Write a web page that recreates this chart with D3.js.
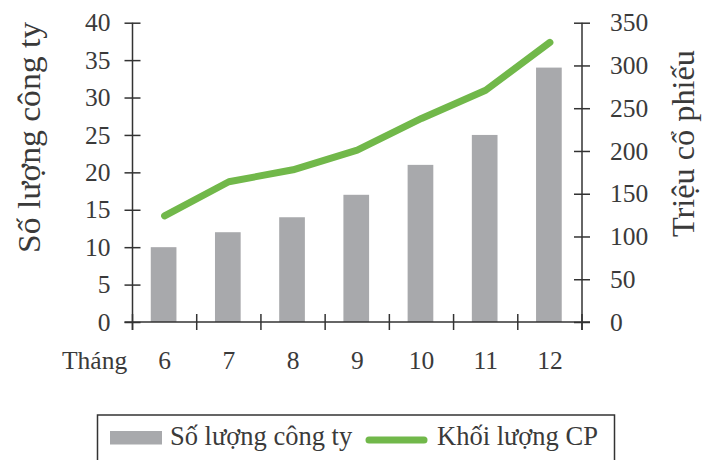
<!DOCTYPE html>
<html>
<head>
<meta charset="utf-8">
<script src="https://cdn.jsdelivr.net/npm/d3@7/dist/d3.min.js"></script>
<style>
  html, body { margin: 0; padding: 0; background: #fff; }
  svg { display: block; }
  text { font-family: "Liberation Serif", "Times New Roman", serif; fill: #3a3a3a; }
</style>
</head>
<body>
<svg id="chart" width="704" height="460"></svg>
<script>
// Số lượng công ty niêm yết và khối lượng cổ phiếu theo tháng
const months = ["6", "7", "8", "9", "10", "11", "12"];
const companyCounts = [10, 12, 14, 17, 21, 25, 34];
const shareVolumes = [124, 164, 178, 201, 238, 271, 327];
const leftTicks = [0, 5, 10, 15, 20, 25, 30, 35, 40];
const rightTicks = [0, 50, 100, 150, 200, 250, 300, 350];

const svg = d3.select("#chart");
const axisColor = "#333";
const barColor = "#a8a9ac";
const lineColor = "#71b84a";
const tickFont = 25.5;

const plot = { left: 132.5, right: 582, top: 22.7, bottom: 322 };

const x = d3.scaleBand()
  .domain(months)
  .range([plot.left, plot.right])
  .paddingInner(0.6)
  .paddingOuter(0.3);

const yL = d3.scaleLinear().domain([0, 40]).range([plot.bottom, plot.top]);
const yR = d3.scaleLinear().domain([0, 350]).range([plot.bottom, plot.top]);

// Cột: số lượng công ty
svg.append("g")
  .selectAll("rect")
  .data(companyCounts)
  .join("rect")
  .attr("x", (d, i) => x(months[i]) - 1)
  .attr("y", d => yL(d))
  .attr("width", x.bandwidth())
  .attr("height", d => yL(0) - yL(d))
  .attr("fill", barColor);

// Đường: khối lượng cổ phiếu
const line = d3.line()
  .x((d, i) => x(months[i]) + x.bandwidth() / 2)
  .y(d => yR(d));

svg.append("path")
  .datum(shareVolumes)
  .attr("d", line)
  .attr("fill", "none")
  .attr("stroke", lineColor)
  .attr("stroke-width", 7)
  .attr("stroke-linecap", "round")
  .attr("stroke-linejoin", "round");

// Trục trái
const gL = svg.append("g")
  .attr("transform", `translate(${plot.left},0)`)
  .call(d3.axisLeft(yL).tickValues(leftTicks).tickSize(8).tickPadding(14));
gL.select(".domain").remove();
gL.selectAll(".tick line").attr("x1", -8).attr("x2", 8);
gL.append("line")
  .attr("y1", plot.top).attr("y2", plot.bottom + 8);

// Trục phải
const gR = svg.append("g")
  .attr("transform", `translate(${plot.right},0)`)
  .call(d3.axisRight(yR).tickValues(rightTicks).tickSize(8).tickPadding(20));
gR.select(".domain").remove();
gR.selectAll(".tick line").attr("x1", -8).attr("x2", 8);
gR.append("line")
  .attr("y1", plot.top).attr("y2", plot.bottom + 8);

[gL, gR].forEach(g => {
  g.selectAll("line").attr("stroke", axisColor).attr("stroke-width", 1.5);
  g.selectAll("text")
    .attr("font-family", "Liberation Serif, Times New Roman, serif")
    .attr("font-size", tickFont)
    .attr("fill", "#3a3a3a");
});

// Trục dưới: vạch chia tại ranh giới giữa các tháng
const gB = svg.append("g")
  .attr("transform", `translate(0,${plot.bottom})`)
  .call(d3.axisBottom(x).tickSize(0).tickPadding(29));
gB.select(".domain").remove();
gB.selectAll("text")
  .attr("font-family", "Liberation Serif, Times New Roman, serif")
  .attr("font-size", tickFont)
  .attr("fill", "#3a3a3a");

const boundaries = months.map(m => x(m) - x.step() * x.paddingInner() / 2);
boundaries[0] = plot.left;
boundaries.push(plot.right);

gB.append("line")
  .attr("x1", plot.left - 8).attr("x2", plot.right + 8)
  .attr("stroke", axisColor).attr("stroke-width", 1.5);
gB.selectAll(".bound")
  .data(boundaries)
  .join("line")
  .attr("class", "bound")
  .attr("x1", d => d).attr("x2", d => d)
  .attr("y1", -8).attr("y2", 8)
  .attr("stroke", axisColor).attr("stroke-width", 1.5);

svg.append("text")
  .attr("x", 62).attr("y", 369)
  .attr("font-size", tickFont)
  .text("Tháng");

// Tiêu đề trục
svg.append("text")
  .attr("transform", "translate(40,137.5) rotate(-90)")
  .attr("text-anchor", "middle")
  .attr("font-size", 31)
  .attr("textLength", 231)
  .attr("lengthAdjust", "spacingAndGlyphs")
  .text("Số lượng công ty");

svg.append("text")
  .attr("transform", "translate(694,143.5) rotate(-90)")
  .attr("text-anchor", "middle")
  .attr("font-size", 31)
  .attr("textLength", 187)
  .attr("lengthAdjust", "spacingAndGlyphs")
  .text("Triệu cổ phiếu");

// Chú thích
const legend = svg.append("g");
legend.append("rect")
  .attr("x", 97.5).attr("y", 415)
  .attr("width", 517).attr("height", 60)
  .attr("fill", "none")
  .attr("stroke", axisColor).attr("stroke-width", 1.5);
legend.append("rect")
  .attr("x", 110).attr("y", 431)
  .attr("width", 52).attr("height", 13.5)
  .attr("fill", barColor);
legend.append("text")
  .attr("x", 170).attr("y", 445)
  .attr("font-size", 26.5)
  .text("Số lượng công ty");
legend.append("line")
  .attr("x1", 369).attr("x2", 424)
  .attr("y1", 440).attr("y2", 440)
  .attr("stroke", lineColor).attr("stroke-width", 7)
  .attr("stroke-linecap", "round");
legend.append("text")
  .attr("x", 437).attr("y", 445)
  .attr("font-size", 26.5)
  .text("Khối lượng CP");
</script>
</body>
</html>
